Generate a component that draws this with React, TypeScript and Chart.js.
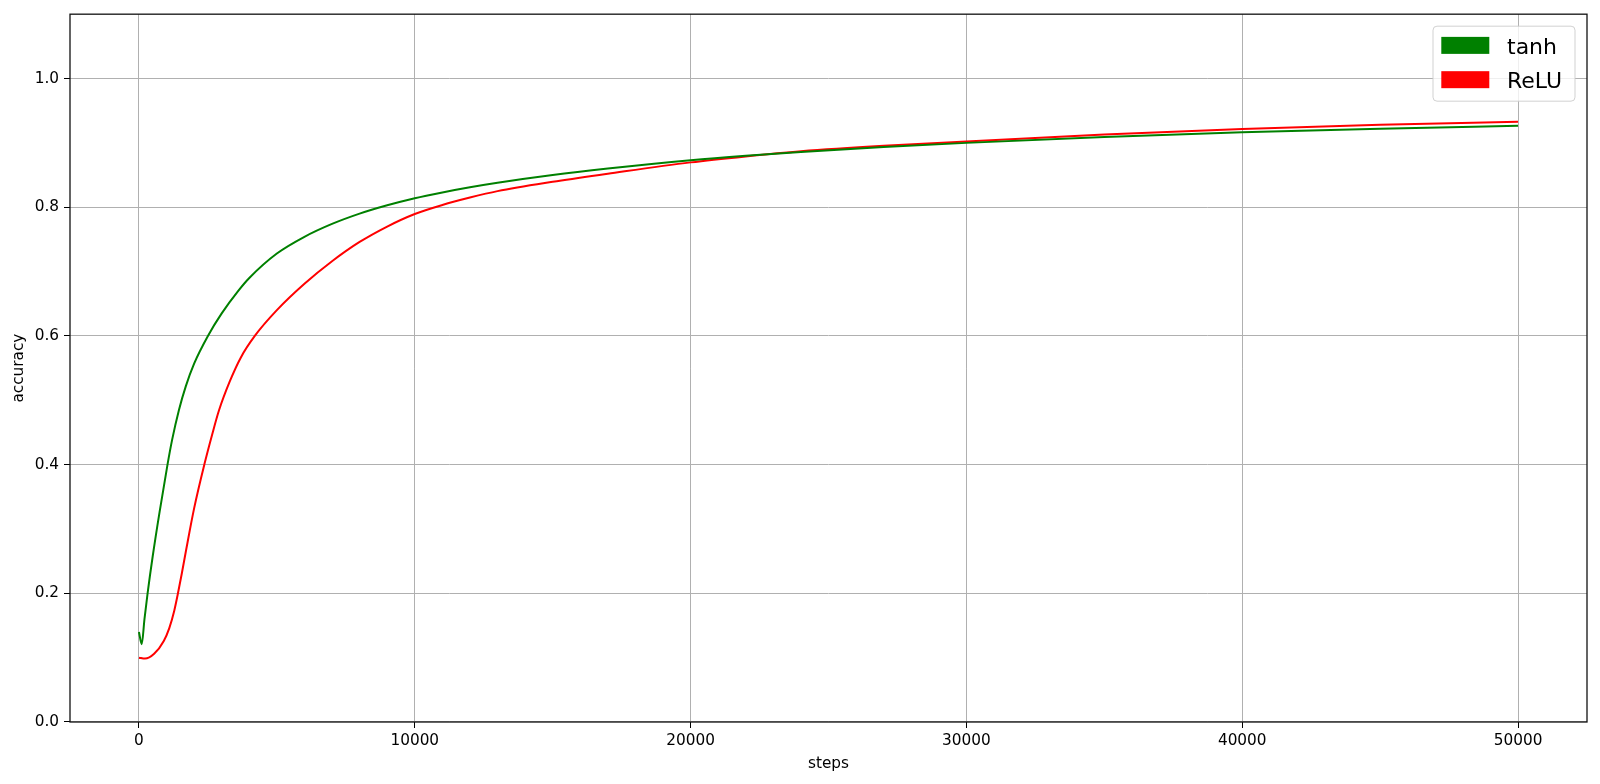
import React, { useEffect, useRef } from "react";
import { Chart, registerables } from "chart.js";

Chart.register(...registerables);

const tanhSteps = [0, 100, 200, 313, 500, 750, 1035, 1200, 1450, 1700, 2000, 2500, 3000, 3600, 4000, 5000, 6000, 7000, 8000, 9000, 10000, 11000, 12000, 13000, 15000, 17000, 20000, 22000, 24000, 27000, 30000, 35000, 40000, 45000, 50000];
const tanhAcc = [0.140, 0.121, 0.160, 0.200, 0.258, 0.327, 0.400, 0.438, 0.485, 0.522, 0.557, 0.600, 0.635, 0.670, 0.690, 0.728, 0.754, 0.774, 0.790, 0.803, 0.814, 0.823, 0.831, 0.838, 0.850, 0.860, 0.873, 0.880, 0.886, 0.8935, 0.900, 0.909, 0.9165, 0.922, 0.9266];

const reluSteps = [0, 220, 550, 900, 1100, 1280, 1400, 1550, 1700, 2000, 2370, 2650, 2900, 3300, 3700, 4200, 5000, 6000, 7000, 8000, 9000, 10000, 11000, 12000, 13000, 15000, 17000, 20000, 22000, 24000, 27000, 30000, 35000, 40000, 45000, 50000];
const reluAcc = [0.100, 0.0985, 0.106, 0.126, 0.146, 0.173, 0.197, 0.230, 0.265, 0.332, 0.400, 0.446, 0.484, 0.530, 0.567, 0.600, 0.640, 0.681, 0.716, 0.746, 0.770, 0.7895, 0.8035, 0.815, 0.825, 0.8395, 0.852, 0.8697, 0.879, 0.887, 0.8955, 0.902, 0.913, 0.9215, 0.928, 0.9328];

const seriesLabels = ["tanh", "ReLU"];
const seriesColors = ["#008000", "#ff0000"];

const xTicks = [0, 10000, 20000, 30000, 40000, 50000];
const yTicks = [0.0, 0.2, 0.4, 0.6, 0.8, 1.0];
const xRange = [-2500, 52500];
const yRange = [0, 1.1];
const xTitle = "steps";
const yTitle = "accuracy";

const FONT = '"DejaVu Sans", "Liberation Sans", sans-serif';
const TICK_SIZE = 15.3;

const framePlugin = {
  id: "frame",
  afterDatasetsDraw(chart: any) {
    const { ctx, chartArea } = chart;
    ctx.save();
    ctx.strokeStyle = "#111";
    ctx.lineWidth = 1.3;
    ctx.strokeRect(chartArea.left, chartArea.top, chartArea.right - chartArea.left, chartArea.bottom - chartArea.top);
    ctx.restore();
  },
};

const legendPlugin = {
  id: "mplLegend",
  afterDraw(chart: any) {
    const { ctx, chartArea } = chart;
    const right = chartArea.right - 12;
    const top = chartArea.top + 12;
    const w = 142;
    const h = 75;
    const left = right - w;
    ctx.save();
    ctx.beginPath();
    ctx.roundRect(left, top, w, h, 4);
    ctx.fillStyle = "rgba(255,255,255,0.8)";
    ctx.fill();
    ctx.strokeStyle = "rgba(204,204,204,0.9)";
    ctx.lineWidth = 1;
    ctx.stroke();
    ctx.font = "22px " + FONT;
    ctx.textBaseline = "alphabetic";
    ctx.textAlign = "left";
    chart.data.datasets.forEach((ds: any, i: number) => {
      const py = top + 10.7 + i * 34.3;
      ctx.fillStyle = ds.borderColor;
      ctx.fillRect(left + 8.3, py, 48, 17);
      ctx.fillStyle = "#000";
      ctx.fillText(ds.label, left + 74, py + 16.8);
    });
    ctx.restore();
  },
};

export default function App() {
  const ref = useRef<HTMLCanvasElement>(null);
  useEffect(() => {
    if (!ref.current) return;
    Chart.defaults.font.family = FONT;
    Chart.defaults.font.size = TICK_SIZE;
    Chart.defaults.color = "#000";
    const chart = new Chart(ref.current, {
      type: "line",
      data: {
        datasets: [
          {
            label: seriesLabels[0],
            data: tanhSteps.map((s, i) => ({ x: s, y: tanhAcc[i] })),
            borderColor: seriesColors[0],
            backgroundColor: seriesColors[0],
            borderWidth: 2,
            pointRadius: 0,
            cubicInterpolationMode: "monotone",
            fill: false,
          },
          {
            label: seriesLabels[1],
            data: reluSteps.map((s, i) => ({ x: s, y: reluAcc[i] })),
            borderColor: seriesColors[1],
            backgroundColor: seriesColors[1],
            borderWidth: 2,
            pointRadius: 0,
            cubicInterpolationMode: "monotone",
            fill: false,
          },
        ],
      },
      options: {
        responsive: false,
        animation: false,
        devicePixelRatio: 1,
        layout: { padding: { left: 0, right: 13, top: 13, bottom: 0 } },
        plugins: { legend: { display: false }, tooltip: { enabled: false } },
        scales: {
          x: {
            type: "linear",
            min: xRange[0],
            max: xRange[1],
            afterBuildTicks: (s: any) => {
              s.ticks = xTicks.map((v) => ({ value: v }));
            },
            afterFit: (s: any) => {
              s.height = 62;
            },
            ticks: {
              padding: 4,
              maxRotation: 0,
              autoSkip: false,
              callback: (v: any) => String(v),
              font: { size: TICK_SIZE },
              color: "#000",
            },
            grid: { color: "#b0b0b0", lineWidth: 1, tickColor: "#000", tickLength: 6, drawTicks: true },
            border: { display: false },
            title: { display: true, text: xTitle, font: { size: TICK_SIZE }, color: "#000", padding: { top: 0, bottom: 11 } },
          },
          y: {
            type: "linear",
            min: yRange[0],
            max: yRange[1],
            afterBuildTicks: (s: any) => {
              s.ticks = yTicks.map((v) => ({ value: v }));
            },
            afterFit: (s: any) => {
              s.width = 70;
            },
            ticks: {
              padding: 5,
              autoSkip: false,
              callback: (v: any) => Number(v).toFixed(1),
              font: { size: TICK_SIZE },
              color: "#000",
            },
            grid: { color: "#b0b0b0", lineWidth: 1, tickColor: "#000", tickLength: 6, drawTicks: true },
            border: { display: false },
            title: { display: true, text: yTitle, font: { size: TICK_SIZE }, color: "#000", padding: { top: 10, bottom: 0 } },
          },
        },
      },
      plugins: [framePlugin, legendPlugin],
    } as any);
    return () => chart.destroy();
  }, []);
  return (
    <div style={{ position: "absolute", left: 0, top: 0, width: 1600, height: 784, background: "#fff" }}>
      <canvas ref={ref} width={1600} height={784} style={{ display: "block" }} />
    </div>
  );
}
